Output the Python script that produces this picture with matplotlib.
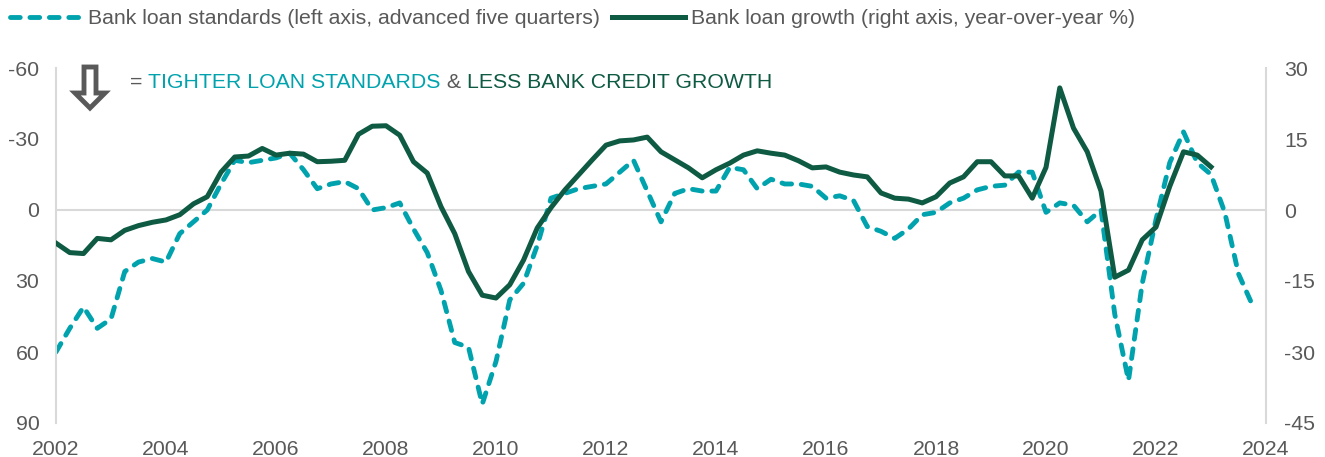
import numpy as np
import matplotlib
matplotlib.use("Agg")
import matplotlib.pyplot as plt
from matplotlib.patches import Polygon

plt.rcParams['font.family'] = ['Liberation Sans', 'DejaVu Sans']
plt.rcParams['axes.unicode_minus'] = False

# Quarterly data, first point = 2002 Q1
standards = [60, 50, 41, 50, 46, 26, 22, 20.5, 22, 10,
             5, 0, -11, -21, -20, -21, -22, -24, -17, -9,
             -11, -12, -9, 0, -1, -3, 8, 18, 34, 56,
             58, 82, 64, 38, 31, 15, -5, -7, -9, -10,
             -11, -16, -21, -8, 5, -7, -9, -8, -8, -18,
             -17, -9, -13, -11, -11, -10, -5, -6, -4, 7,
             9, 12, 8, 2, 1, -3, -5, -8.5, -10, -10.5,
             -16, -16, 1, -3, -2, 5, 0, 44, 72, 31,
             4, -20, -33, -20, -15, 1, 27, 40]
growth = [-7, -9, -9.2, -6, -6.3, -4.3, -3.3, -2.6, -2.1, -1,
          1.3, 2.8, 8, 11.2, 11.4, 13, 11.6, 12, 11.8, 10.2,
          10.3, 10.5, 16, 17.7, 17.8, 15.8, 10.2, 7.8, 0.7, -5,
          -13, -18, -18.6, -15.8, -10.6, -3.8, 0.5, 4.2, 7.4, 10.6,
          13.7, 14.6, 14.8, 15.4, 12.3, 10.6, 8.9, 6.8, 8.5, 9.9,
          11.6, 12.5, 12, 11.6, 10.4, 8.9, 9.1, 8, 7.4, 7,
          3.6, 2.5, 2.3, 1.5, 2.8, 5.7, 7, 10.2, 10.2, 7.2,
          7.2, 2.5, 9, 25.8, 17.3, 12.3, 4, -14.2, -12.7, -6.3,
          -3.6, 5, 12.3, 11.6, 9.1]
x_std = 2002 + np.arange(len(standards)) / 4
x_gr = 2002 + np.arange(len(growth)) / 4

year_ticks = list(range(2002, 2025, 2))
left_ticks = [-60, -30, 0, 30, 60, 90]
right_ticks = [30, 15, 0, -15, -30, -45]

TEAL = '#00A3AD'
GREEN = '#0E5A43'
GRAY = '#595959'
LIGHT = '#D9D9D9'
FS = 15.3
W, H = 1325, 457

fig = plt.figure(figsize=(W / 100, H / 100), dpi=100)
ax = fig.add_axes([56 / W, 1 - 423 / H, (1266 - 56) / W, (423 - 68) / H])
ax2 = ax.twinx()

ax.axhline(0, color=LIGHT, lw=1.5, zorder=0)
l1, = ax.plot(x_std, standards, color=TEAL, lw=3.5, dashes=(2.0, 2.0),
              dash_capstyle='round', solid_capstyle='round',
              label='Bank loan standards (left axis, advanced five quarters)')
l2, = ax2.plot(x_gr, growth, color=GREEN, lw=3.6, solid_joinstyle='round',
               label='Bank loan growth (right axis, year-over-year %)')

ax.set_xlim(2002, 2024)
ax.set_ylim(90, -60)
ax2.set_ylim(-45, 30)
ax.set_xticks(year_ticks)
ax.set_yticks(left_ticks)
ax2.set_yticks(right_ticks)

for a in (ax, ax2):
    for s in ('top', 'bottom'):
        a.spines[s].set_visible(False)
    a.spines['left'].set_color(LIGHT)
    a.spines['right'].set_color(LIGHT)
    a.spines['left'].set_linewidth(1.5)
    a.spines['right'].set_linewidth(1.5)
ax.spines['right'].set_visible(False)
ax2.spines['left'].set_visible(False)

ax.tick_params(axis='both', length=0, labelsize=FS, labelcolor=GRAY, pad=12)
ax2.tick_params(axis='y', length=0, labelsize=FS, labelcolor=GRAY, pad=13)

fig.legend(handles=[l1, l2], loc='upper left', bbox_to_anchor=(6 / W, 1 - 5 / H),
           ncol=2, frameon=False, fontsize=FS, labelcolor=GRAY,
           handlelength=3.44, handletextpad=0.24, columnspacing=0.56,
           borderaxespad=0, borderpad=0.2)

# hollow down arrow (pixel coordinates from top-left)
arrow_px = [(84, 67), (96, 67), (96, 93), (105, 93), (90, 108), (75, 93), (84, 93)]
arrow = Polygon([(px / W, 1 - py / H) for px, py in arrow_px], closed=True,
                transform=fig.transFigure, facecolor='white', edgecolor=GRAY,
                lw=3.5, joinstyle='miter')
fig.add_artist(arrow)

# coloured note
pieces = [('= ', GRAY), ('TIGHTER LOAN STANDARDS', TEAL), (' & ', GRAY),
          ('LESS BANK CREDIT GROWTH', GREEN)]
fig.canvas.draw()
r = fig.canvas.get_renderer()
xpos = 130
for txt, col in pieces:
    t = fig.text(xpos / W, 1 - 83 / H, txt, color=col, fontsize=FS,
                 va='center', ha='left')
    xpos += t.get_window_extent(r).width

fig.savefig('out.png', dpi=100)
